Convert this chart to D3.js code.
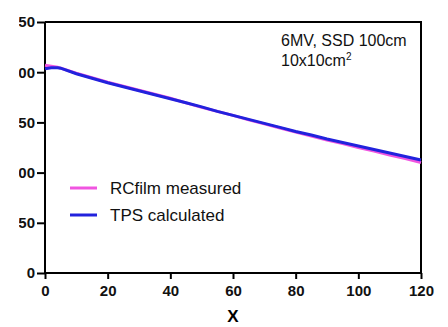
<!DOCTYPE html>
<html><head><meta charset="utf-8">
<script src="https://cdn.jsdelivr.net/npm/d3@7"></script>
<style>html,body{margin:0;padding:0;background:#fff;}svg{display:block;}</style>
</head><body>
<script>
const depthX = [0,2,4,5,10,15,20,25,30,35,40,45,50,55,60,65,70,75,80,85,90,95,100,105,110,115,120];
const tpsCalculated = [203.5,204.5,204.5,204,198.5,194,189.5,185.5,181.5,177.5,173.5,169.5,165.5,161,157,153,149,145,141,137.5,133.5,130,126.5,123,119.5,116,112.5];
const filmMeasured = [207,206,205,204,199,194.5,190,186,182,178,174,169.5,165,161,157,152.5,148.5,144.5,140.5,136.5,132.5,129,125,121.5,117.5,114,110];
const xTicks = [0,20,40,60,80,100,120];
const yTicks = [0,50,100,150,200,250];
const seriesNames = ["RCfilm measured","TPS calculated"];
const seriesColors = ["#f055e0","#2222dd"];
const noteLines = ["6MV, SSD 100cm","10x10cm"];

const W=448,H=327, m={l:45,t:22,r:27,b:54};
const svg=d3.select("body").append("svg").attr("width",W).attr("height",H);
const x=d3.scaleLinear().domain([0,120]).range([m.l,W-m.r]);
const y=d3.scaleLinear().domain([0,250]).range([H-m.b,m.t]);
const font="'Liberation Sans', Arial, Helvetica, sans-serif";

svg.append("path").attr("d",`M${x(0)},${y(250)}H${x(120)}V${y(0)}`).attr("fill","none").attr("stroke","#000").attr("stroke-width",2);

const gx=svg.append("g").attr("transform",`translate(0,${y(0)})`);
gx.call(d3.axisBottom(x).tickValues(d3.range(10,120,20)).tickSize(4).tickFormat(""));
gx.call(d3.axisBottom(x).tickValues(xTicks).tickSize(6).tickPadding(6).tickFormat(d3.format("d")));
gx.selectAll("path,line").attr("stroke","#000").attr("stroke-width",2);
gx.select(".domain").attr("d",`M${x(0)},0H${x(120)}`);
gx.selectAll("text").attr("font-family",font).attr("font-weight","bold").attr("font-size",15).attr("fill","#111");

svg.append("clipPath").attr("id","lc").attr("clipPathUnits","userSpaceOnUse")
  .append("rect").attr("x",19-x(0)).attr("y",0).attr("width",W).attr("height",H);
const gy=svg.append("g").attr("transform",`translate(${x(0)},0)`);
gy.call(d3.axisLeft(y).tickValues(d3.range(0,251,10).filter(v=>v%50)).tickSize(5).tickFormat(""));
gy.call(d3.axisLeft(y).tickValues(yTicks).tickSize(8).tickPadding(2).tickFormat(d3.format("d")));
gy.selectAll("path,line").attr("stroke","#000").attr("stroke-width",2);
gy.select(".domain").attr("d",`M0,${y(0)}V${y(250)}`);
gy.selectAll("text").attr("font-family",font).attr("font-weight","bold").attr("font-size",15).attr("fill","#111");
gy.attr("clip-path","url(#lc)");

svg.append("text").attr("x",(x(0)+x(120))/2).attr("y",322).attr("text-anchor","middle")
  .attr("font-family",font).attr("font-weight","bold").attr("font-size",17).text("X");

const line=(vals)=>d3.line().x((d,i)=>x(depthX[i])).y(d=>y(d))(vals);
svg.append("path").attr("d",line(filmMeasured)).attr("fill","none").attr("stroke",seriesColors[0]).attr("stroke-width",3);
svg.append("path").attr("d",line(tpsCalculated)).attr("fill","none").attr("stroke",seriesColors[1]).attr("stroke-width",3);

const lg=[{n:seriesNames[0],c:seriesColors[0],yy:188},{n:seriesNames[1],c:seriesColors[1],yy:215}];
lg.forEach(d=>{
  svg.append("line").attr("x1",70).attr("x2",97).attr("y1",d.yy).attr("y2",d.yy).attr("stroke",d.c).attr("stroke-width",3);
  svg.append("text").attr("x",110).attr("y",d.yy+6).attr("font-family",font).attr("font-size",17).attr("fill","#111").text(d.n);
});

svg.append("text").attr("x",281).attr("y",46).attr("font-family",font).attr("font-size",16).attr("fill","#111").text(noteLines[0]);
const t2=svg.append("text").attr("x",281).attr("y",66).attr("font-family",font).attr("font-size",16).attr("fill","#111");
t2.append("tspan").text(noteLines[1]);
t2.append("tspan").attr("dy",-6).attr("font-size",10).text("2");
</script>
</body></html>
